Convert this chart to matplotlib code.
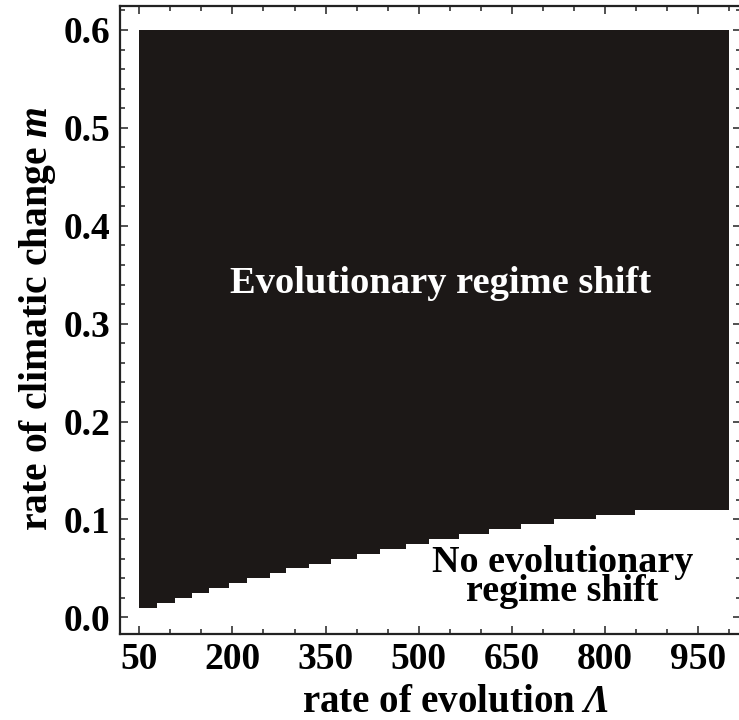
import matplotlib
matplotlib.use("Agg")
import matplotlib.pyplot as plt
from matplotlib.ticker import FixedLocator, MultipleLocator

# boundary of the regime-shift region (step edges along Lambda, m level on each step)
lam_edges = [50, 79, 107, 135, 163, 195, 223, 260, 287, 324, 359, 400,
             438, 480, 517, 565, 613, 664, 718, 785, 848, 1000]
m_levels = [0.010, 0.015, 0.020, 0.025, 0.030, 0.035, 0.040, 0.045, 0.050,
            0.055, 0.060, 0.065, 0.070, 0.075, 0.080, 0.085, 0.090, 0.095,
            0.100, 0.105, 0.110, 0.110]
m_top = 0.6

x_ticks = [50, 200, 350, 500, 650, 800, 950]
y_ticks = [0.0, 0.1, 0.2, 0.3, 0.4, 0.5, 0.6]

plt.rcParams["font.family"] = "Liberation Serif"
plt.rcParams["font.weight"] = "bold"
plt.rcParams["mathtext.fontset"] = "custom"
plt.rcParams["mathtext.rm"] = "Liberation Serif:bold"
plt.rcParams["mathtext.it"] = "Liberation Serif:italic:bold"
# 'it' forces greek capitals upright, so borrow the sf slot for an italic Lambda
plt.rcParams["mathtext.sf"] = "Liberation Serif:italic:bold"

fig = plt.figure(figsize=(7.39, 7.2), dpi=100)
ax = fig.add_axes([0.1624, 0.1194, 0.8403, 0.8723])

ax.fill_between(lam_edges, m_levels, m_top, step="post", color="#1c1817", linewidth=0)

ax.set_xlim(19, 1019)
ax.set_ylim(-0.017, 0.6245)

ax.xaxis.set_major_locator(FixedLocator(x_ticks))
ax.xaxis.set_minor_locator(MultipleLocator(50))
ax.yaxis.set_major_locator(FixedLocator(y_ticks))
ax.yaxis.set_minor_locator(MultipleLocator(0.02))
ax.set_yticklabels([f"{v:.1f}" for v in y_ticks])

ax.tick_params(which="both", direction="in", top=True, right=True, width=1.1, color="#222222")
ax.tick_params(which="major", length=6)
ax.tick_params(which="minor", length=3.5)
ax.tick_params(axis="x", labelsize=27, pad=6)
ax.tick_params(axis="y", labelsize=27, pad=7)
for s in ax.spines.values():
    s.set_linewidth(1.6)
    s.set_color("#222222")

ax.set_xlabel(r"rate of evolution $\mathsf{\Lambda}$", fontsize=28, fontweight="bold")
ax.set_ylabel(r"rate of climatic change $m$", fontsize=28.5, fontweight="bold")
ax.xaxis.set_label_coords(0.541, -0.08)
ax.yaxis.set_label_coords(-0.10, 0.503)

ax.text(535, 0.341, "Evolutionary regime shift", color="white", fontsize=27.7,
        fontweight="bold", ha="center", va="center")
ax.text(731, 0.041, "No evolutionary\nregime shift", color="black", fontsize=27.4,
        fontweight="bold", ha="center", va="center", linespacing=0.78)

fig.savefig("out.png", dpi=100)
